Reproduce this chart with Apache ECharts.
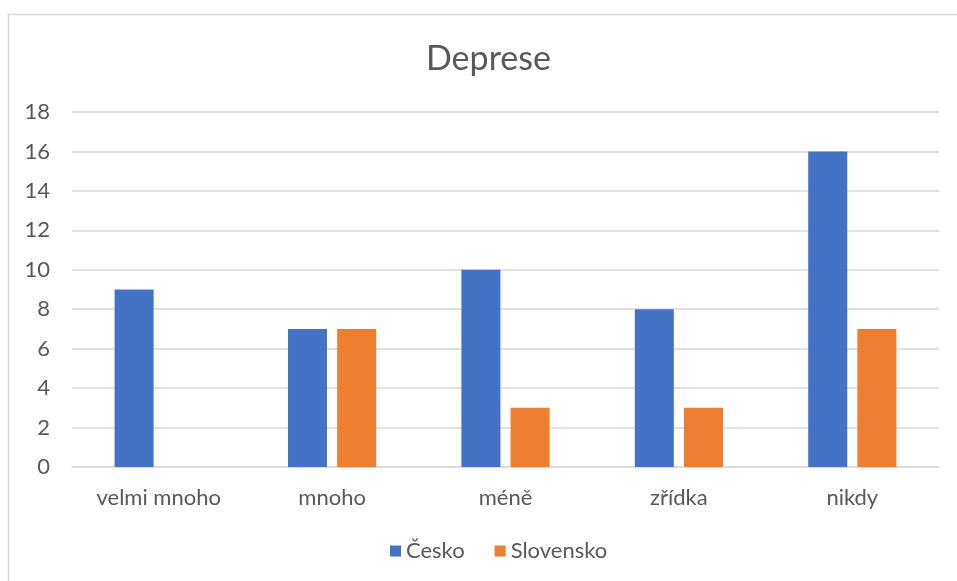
<!DOCTYPE html>
<html><head><meta charset="utf-8">
<script src="https://cdn.jsdelivr.net/npm/echarts@6/dist/echarts.min.js"></script>
<style>html,body{margin:0;padding:0;background:#fff}#c{width:957px;height:581px}</style>
</head><body><div id="c"></div>
<script>
const categories = ['velmi mnoho', 'mnoho', 'méně', 'zřídka', 'nikdy'];
const cesko = [9, 7, 10, 8, 16];
const slovensko = [0, 7, 3, 3, 7];
const yTicks = { min: 0, max: 18, interval: 2 };

const chart = echarts.init(document.getElementById('c'), null, { renderer: 'canvas' });
const font = 'Lato, "Open Sans", sans-serif';
chart.setOption({
  animation: false,
  backgroundColor: '#fff',
  graphic: [{ type: 'rect', shape: { x: 8.5, y: 14.5, width: 1000, height: 1000 }, style: { fill: 'none', stroke: '#d9d9d9', lineWidth: 1.5 }, silent: true }],
  title: { text: 'Deprese', left: 421, top: 37, textStyle: { fontFamily: font, fontSize: 34, fontWeight: 'normal', color: '#595959' } },
  legend: { bottom: 14, left: 385, itemWidth: 11, itemHeight: 11, itemGap: 30, itemTextGap: 8, icon: 'rect', textStyle: { fontFamily: font, fontSize: 22, color: '#595959' } },
  grid: { left: 72, right: 18, top: 112, bottom: 114, containLabel: false },
  xAxis: {
    type: 'category', data: categories,
    axisLine: { lineStyle: { color: '#d9d9d9', width: 1.5 } },
    axisTick: { show: false },
    axisLabel: { fontFamily: font, fontSize: 22, color: '#595959', margin: 20 }
  },
  yAxis: {
    type: 'value', min: yTicks.min, max: yTicks.max, interval: yTicks.interval,
    axisLine: { show: false }, axisTick: { show: false },
    splitLine: { lineStyle: { color: '#d9d9d9', width: 1.5 } },
    axisLabel: { fontFamily: font, fontSize: 22, color: '#595959', margin: 22, align: 'right' }
  },
  series: [
    { name: 'Česko', type: 'bar', data: cesko, barWidth: '22.5%', barGap: '26%', itemStyle: { color: '#4472C4' } },
    { name: 'Slovensko', type: 'bar', data: slovensko, barWidth: '22.5%', barGap: '26%', itemStyle: { color: '#ED7D31' } }
  ]
});
</script></body></html>
